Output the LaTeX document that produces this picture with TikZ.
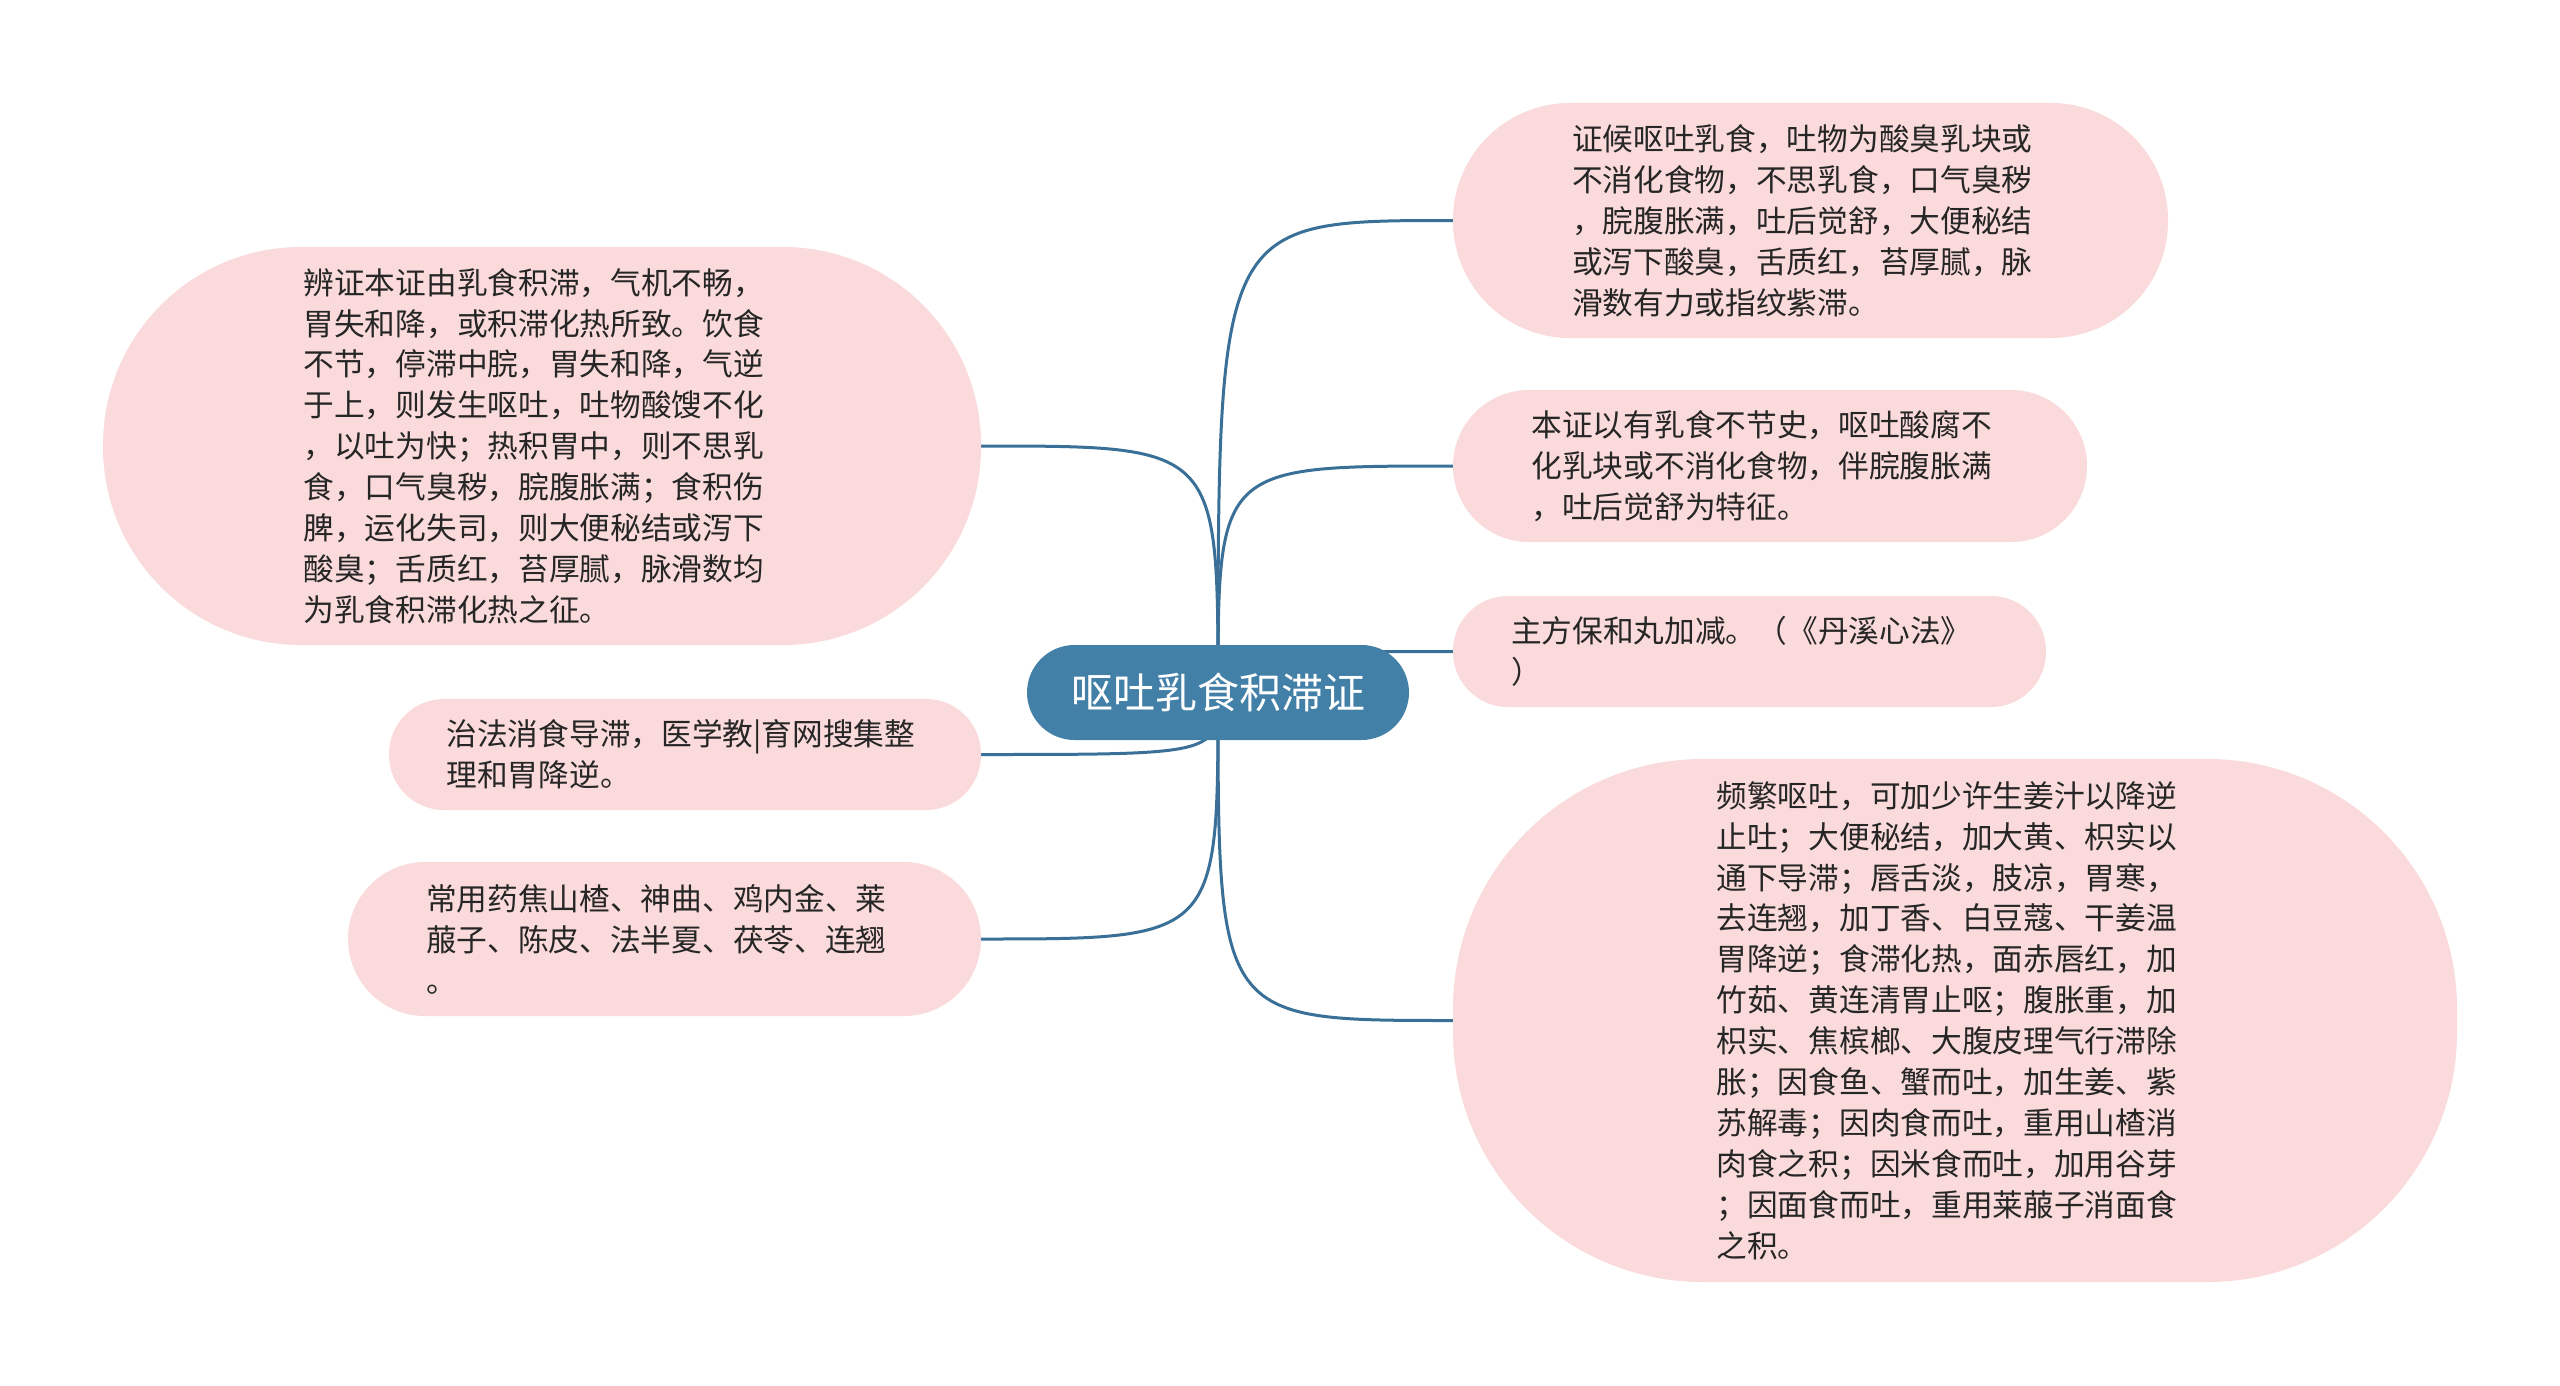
\documentclass[tikz,border=0pt]{standalone}
\usepackage{fontspec}
\setmainfont{Noto Sans CJK SC}
\usetikzlibrary{backgrounds}
\definecolor{pinkfill}{RGB}{250,218,218}
\definecolor{hubfill}{RGB}{67,128,168}
\definecolor{linkcol}{RGB}{58,112,152}
\definecolor{txtcol}{RGB}{38,38,38}
\tikzset{
  leaf/.style={rectangle, fill=pinkfill, draw=none, inner sep=0pt, align=left,
    text width=477pt, text=txtcol, font=\fontsize{30.7}{40.9}\selectfont},
  hub/.style={rectangle, fill=hubfill, draw=none, inner sep=0pt, text=white,
    font=\fontsize{42}{50}\selectfont, minimum width=382pt, minimum height=95pt,
    rounded corners=47.5pt},
  conn/.style={draw=linkcol, line width=3pt}
}
\begin{document}
\begin{tikzpicture}[x=1pt,y=-1pt]
\useasboundingbox (0,0) rectangle (2560,1386);

\node[hub] (c) at (1218,692.5) {呕吐乳食积滞证};

\node[leaf, minimum width=878pt, minimum height=398pt, rounded corners=198pt] (n1) at (542,446) {辨证本证由乳食积滞，气机不畅，\\胃失和降，或积滞化热所致。饮食\\不节，停滞中脘，胃失和降，气逆\\于上，则发生呕吐，吐物酸馊不化\\，以吐为快；热积胃中，则不思乳\\食，口气臭秽，脘腹胀满；食积伤\\脾，运化失司，则大便秘结或泻下\\酸臭；舌质红，苔厚腻，脉滑数均\\为乳食积滞化热之征。};

\node[leaf, minimum width=715pt, minimum height=235pt, rounded corners=117pt] (n2) at (1810.5,220.5) {证候呕吐乳食，吐物为酸臭乳块或\\不消化食物，不思乳食，口气臭秽\\，脘腹胀满，吐后觉舒，大便秘结\\或泻下酸臭，舌质红，苔厚腻，脉\\滑数有力或指纹紫滞。};

\node[leaf, minimum width=634pt, minimum height=152pt, rounded corners=76pt] (n3) at (1770,466) {本证以有乳食不节史，呕吐酸腐不\\化乳块或不消化食物，伴脘腹胀满\\，吐后觉舒为特征。};

\node[leaf, minimum width=593pt, minimum height=111pt, rounded corners=55pt] (n4) at (1749.5,651.5) {主方保和丸加减。（《丹溪心法》\\）};

\node[leaf, minimum width=1004pt, minimum height=523pt, rounded corners=250pt] (n5) at (1955,1020.5) {频繁呕吐，可加少许生姜汁以降逆\\止吐；大便秘结，加大黄、枳实以\\通下导滞；唇舌淡，肢凉，胃寒，\\去连翘，加丁香、白豆蔻、干姜温\\胃降逆；食滞化热，面赤唇红，加\\竹茹、黄连清胃止呕；腹胀重，加\\枳实、焦槟榔、大腹皮理气行滞除\\胀；因食鱼、蟹而吐，加生姜、紫\\苏解毒；因肉食而吐，重用山楂消\\肉食之积；因米食而吐，加用谷芽\\；因面食而吐，重用莱菔子消面食\\之积。};

\node[leaf, minimum width=592pt, minimum height=111pt, rounded corners=55pt] (n6) at (685,754.5) {治法消食导滞，医学教|育网搜集整\\理和胃降逆。};

\node[leaf, minimum width=633pt, minimum height=154pt, rounded corners=77pt] (n7) at (664.5,939) {常用药焦山楂、神曲、鸡内金、莱\\菔子、陈皮、法半夏、茯苓、连翘\\。};

\begin{scope}[on background layer]
  \fill[white] (0,0) rectangle (2560,1386);
  \draw[conn] (c.center) .. controls (c.center |- n1.east) .. (n1.east);
  \draw[conn] (c.center) .. controls (c.center |- n6.east) .. (n6.east);
  \draw[conn] (c.center) .. controls (c.center |- n7.east) .. (n7.east);
  \draw[conn] (c.center) .. controls (c.center |- n2.west) .. (n2.west);
  \draw[conn] (c.center) .. controls (c.center |- n3.west) .. (n3.west);
  \draw[conn] (c.center) .. controls (c.center |- n4.west) .. (n4.west);
  \draw[conn] (c.center) .. controls (c.center |- n5.west) .. (n5.west);
\end{scope}
\end{tikzpicture}
\end{document}
